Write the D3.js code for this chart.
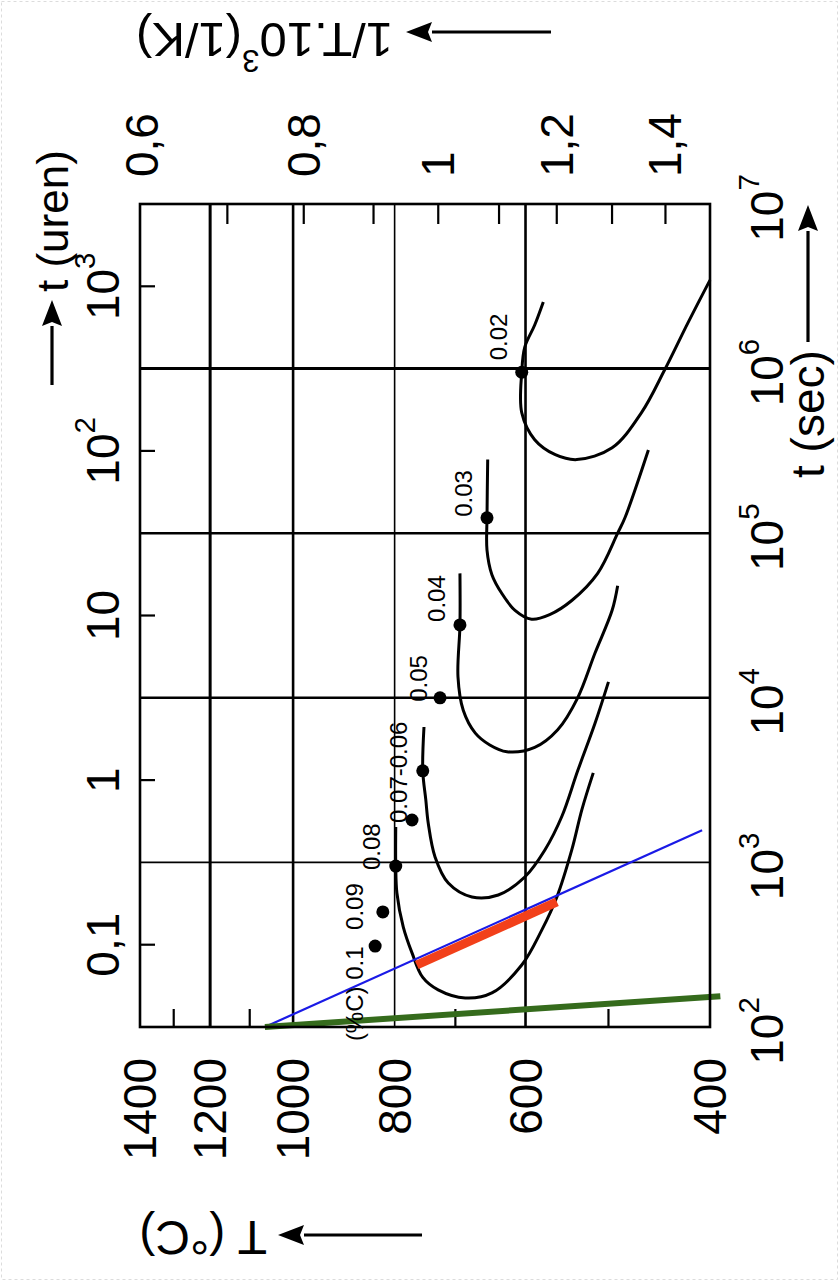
<!DOCTYPE html>
<html><head><meta charset="utf-8">
<script src="https://cdn.jsdelivr.net/npm/d3@7"></script>
<style>
html,body{margin:0;padding:0;background:#fff;}
svg{display:block;}
text{font-family:"Liberation Sans",Arial,Helvetica,sans-serif;fill:#000;}
</style></head><body>
<svg id="c" width="839" height="1281"></svg>
<script>
// ---------------- data ----------------
const tempGrid = [1200, 1000, 800, 600];
const tempGridWidth = [3, 2.6, 1.6, 2.6];
const tempLabels = [1400, 1200, 1000, 800, 600, 400];
const tempMinorTicks = [1300, 1100, 700, 500];
const invTLabels = [0.6, 0.8, 1.0, 1.2, 1.4];
const invTLabelText = ["0,6", "0,8", "1", "1,2", "1,4"];
const invTTicks = [0.7, 0.8, 0.9, 1.0, 1.1, 1.2, 1.3, 1.4];
const timeGrid = [1e3, 1e4, 1e5, 1e6];
const timeGridWidth = [1.6, 2.4, 2.6, 3];
const timeLabels = [1e2, 1e3, 1e4, 1e5, 1e6, 1e7];
const timeLabelExp = ["2", "3", "4", "5", "6", "7"];
const hourTicks = [0.1, 1, 10, 100, 1000];
const hourLabelMain = ["0,1", "1", "10", "10", "10"];
const hourLabelExp = ["", "", "", "2", "3"];

// carbon content (%C) and the marked points [T in °C, t in s]
const carbon = [0.1, 0.09, 0.08, 0.07, 0.06, 0.05, 0.04, 0.03, 0.02];
const carbonLabels = ["(%C) 0.1", "0.09", "0.08", "0.07-0.06", "", "0.05", "0.04", "0.03", "0.02"];
const dotT = [835, 821, 798, 770, 752, 724, 693, 653, 605];
const dotTime = [310, 500, 950, 1810, 3600, 1.0e4, 2.77e4, 1.24e5, 9.5e5];

// C-curves: [T °C, t s]
const curve008 = [[798,1640],[798,950],[796,652],[785,406],[770,282],[752,200],[727,168],[685,150],[646,161],[605,238],[579,388],[560,617],[542,1190],[530,2100],[517,3500]];
const curve006 = [[750,6650],[752,3600],[747,2400],[743,1730],[732,1080],[711,750],[675,617],[637,634],[601,815],[575,1190],[554,1900],[535,3600],[515,7000],[500,12500]];
const curve004 = [[693,57000],[693,27700],[696,13400],[688,8400],[670,6100],[649,5170],[625,4700],[588,5000],[559,6400],[535,10000],[515,18700],[496,34000],[490,48000]];
const curve003 = [[652,2.8e5],[653,1.24e5],[653,7.9e4],[646,5.6e4],[632,4.3e4],[614,3.4e4],[592,3.0e4],[569,3.2e4],[542,3.9e4],[512,5.7e4],[490,1.0e5],[482,1.25e5],[458,3.2e5]];
const curve002 = [[577,2.54e6],[588,1.84e6],[601,1.35e6],[605,9.5e5],[605,5.4e5],[588,3.7e5],[562,3.0e5],[536,2.8e5],[496,3.3e5],[465,5.4e5],[442,9.8e5],[420,1.89e6],[400,3.45e6]];
const curves = [curve008, curve006, curve004, curve003, curve002];

const blueLine = [[1064,100],[407,1570]];
const redLine = [[762,238],[560,575]];
const greenLine = [[1064,100],[391,154]];

// ---------------- layout ----------------
const L = 140, R = 710, TOP = 204, BOT = 1027;
// label offsets from each dot (px): [dx, dy]
const labelOffsets = [[-12,95],[-20,18],[-16,4],[-5,3],[0,0],[-13,4],[-15,-3],[-15,-1],[-15,-12]];

const svg = d3.select("#c");
svg.append("rect").attr("width",839).attr("height",1281).attr("fill","#fff");
svg.append("rect").attr("x",1.5).attr("y",1.5).attr("width",836).attr("height",1278)
  .attr("fill","none").attr("stroke","#dcdcdc").attr("stroke-dasharray","3,3");

// temperature (log) horizontally, time (log) vertically (chart drawn rotated)
const x = d3.scaleLog().domain([1400, 400]).range([L, R]);
const y = d3.scaleLog().domain([1e2, 1e7]).range([BOT, TOP]);
// hour axis as drawn in the original figure
const yh = d3.scaleLog().domain([1e2/3162, 1e7/3162]).range([BOT, TOP]);
const xInv = v => x(1000 / v - 273.15);

const g = svg.append("g");

// grid
tempGrid.forEach((T,i) => g.append("line").attr("x1",x(T)).attr("x2",x(T)).attr("y1",TOP).attr("y2",BOT)
  .attr("stroke","#000").attr("stroke-width",tempGridWidth[i]));
timeGrid.forEach((t,i) => g.append("line").attr("x1",L).attr("x2",R).attr("y1",y(t)).attr("y2",y(t))
  .attr("stroke","#000").attr("stroke-width",timeGridWidth[i]));

// ticks
invTTicks.forEach(v => g.append("line").attr("x1",xInv(v)).attr("x2",xInv(v)).attr("y1",TOP).attr("y2",TOP+20)
  .attr("stroke","#000").attr("stroke-width",2.2));
tempMinorTicks.forEach(T => g.append("line").attr("x1",x(T)).attr("x2",x(T)).attr("y1",BOT).attr("y2",BOT-18)
  .attr("stroke","#000").attr("stroke-width",2.2));
hourTicks.forEach(h => g.append("line").attr("x1",L).attr("x2",L+15).attr("y1",yh(h)).attr("y2",yh(h))
  .attr("stroke","#000").attr("stroke-width",2.2));

// curves
const line = d3.line().x(d => x(d[0])).y(d => y(d[1])).curve(d3.curveCatmullRom.alpha(0.5));
curves.forEach(c => g.append("path").attr("d", line(c)).attr("fill","none")
  .attr("stroke","#000").attr("stroke-width",3));

const straight = d3.line().x(d => x(d[0])).y(d => y(d[1]));
g.append("path").attr("d", straight(blueLine)).attr("stroke","#1a1ae6").attr("stroke-width",2.2).attr("fill","none");
g.append("path").attr("d", straight(redLine)).attr("stroke","#f2401a").attr("stroke-width",9).attr("fill","none");
g.append("path").attr("d", straight(greenLine)).attr("stroke","#356b1c").attr("stroke-width",6).attr("fill","none");

// dots + labels
carbon.forEach((c,i) => {
  const px = x(dotT[i]), py = y(dotTime[i]);
  g.append("circle").attr("cx",px).attr("cy",py).attr("r",6.5).attr("fill","#000");
  if (carbonLabels[i]) {
    g.append("text").attr("transform",`translate(${px+labelOffsets[i][0]},${py+labelOffsets[i][1]}) rotate(-90)`)
      .attr("text-anchor","start").style("font-size","24px").text(carbonLabels[i]);
  }
});

// border
g.append("rect").attr("x",L).attr("y",TOP).attr("width",R-L).attr("height",BOT-TOP)
  .attr("fill","none").attr("stroke","#000").attr("stroke-width",2.6);

// text helper
function addText(px, py, angle, anchor, main, sup, size, after) {
  const t = svg.append("text").attr("transform",`translate(${px},${py}) rotate(${angle})`)
    .attr("text-anchor",anchor).attr("dominant-baseline","central").style("font-size",size+"px");
  t.append("tspan").text(main);
  if (sup) t.append("tspan").attr("dy",-0.42*size).style("font-size",(size*0.64)+"px").text(sup);
  if (after) t.append("tspan").attr("dy",0.42*size).text(after);
  return t;
}
function arrow(x1,y1,x2,y2) {
  const a = Math.atan2(y2-y1, x2-x1), len = 26, hw = 10;
  const bx = x2 - len*Math.cos(a), by = y2 - len*Math.sin(a);
  svg.append("line").attr("x1",x1).attr("y1",y1).attr("x2",bx).attr("y2",by)
    .attr("stroke","#000").attr("stroke-width",3.2);
  const px = -Math.sin(a)*hw, py = Math.cos(a)*hw;
  svg.append("path").attr("d",`M${x2},${y2}L${bx+px},${by+py}L${bx+4*Math.cos(a)},${by+4*Math.sin(a)}L${bx-px},${by-py}Z`).attr("fill","#000");
}

// axis labels
tempLabels.forEach(T => addText(x(T), 1058, -90, "end", String(T), "", 46));
invTLabels.forEach((v,i) => addText(xInv(v), 177, -90, "start", invTLabelText[i], "", 46));
hourTicks.forEach((h,i) => addText(103, yh(h), -90, "middle", hourLabelMain[i], hourLabelExp[i], 46));
timeLabels.forEach((t,i) => addText(767, y(t)+4, -90, "middle", "10", timeLabelExp[i], 46));

// axis titles
addText(393, 40, 180, "start", "1/T.10", "3", 49, "(1/K)");
arrow(551, 32, 406, 32);
addText(267, 1238, 180, "start", "T (°C)", "", 48);
arrow(422, 1235, 278, 1235);
addText(52, 292, -90, "start", "t (uren)", "", 44);
arrow(52, 385, 52, 300);
addText(808, 478, -90, "start", "t (sec)", "", 46);
arrow(808, 342, 808, 205);
</script></body></html>
